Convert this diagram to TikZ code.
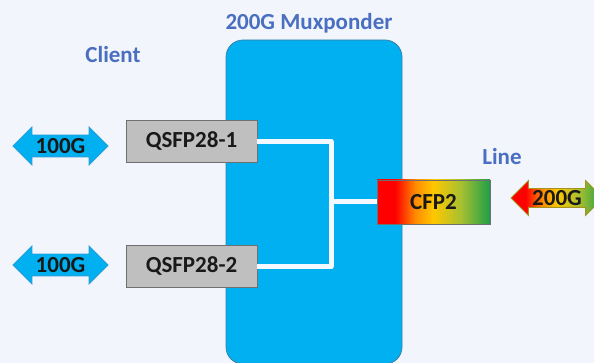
\documentclass[tikz,border=0pt]{standalone}
\usepackage{fontspec}
\setmainfont{Carlito}
\usetikzlibrary{shapes.arrows}

\definecolor{bgcol}{HTML}{F2F6FC}
\definecolor{muxblue}{HTML}{00B0F0}
\definecolor{muxedge}{HTML}{3F7FA6}
\definecolor{labelblue}{HTML}{4A6FC0}
\definecolor{boxgray}{HTML}{BFBFBF}
\definecolor{boxedge}{HTML}{6F6F6F}
\definecolor{arrowedge}{HTML}{2A9ED8}
\definecolor{cfpred}{HTML}{FF0000}
\definecolor{cfporange}{HTML}{FF8C00}
\definecolor{cfpyellow}{HTML}{FFC800}
\definecolor{cfplgreen}{HTML}{A8C030}
\definecolor{cfpgreen}{HTML}{1E9E48}
\definecolor{wireband}{HTML}{F4F9FF}

% red -> orange -> yellow -> green, path box spans 25bp..75bp
\pgfdeclarehorizontalshading{traffic}{100bp}{%
  color(0bp)=(cfpred); color(25bp)=(cfpred); color(33bp)=(cfpred);
  color(42bp)=(cfporange); color(50bp)=(cfpyellow);
  color(62bp)=(cfplgreen); color(75bp)=(cfpgreen); color(100bp)=(cfpgreen)}

\tikzset{
  txt/.style={font=\fontsize{23}{27}\selectfont\bfseries},
  heading/.style={txt, text=labelblue},
  module/.style={txt, draw=boxedge, line width=0.8pt, minimum width=131pt,
    minimum height=42pt, inner sep=0pt, text=black!90},
  qsfp/.style={module, fill=boxgray},
  cfp/.style={module, shading=traffic, minimum width=113pt, minimum height=44pt},
  clientarrow/.style={txt, double arrow, double arrow head extend=8pt,
    double arrow head indent=0pt, minimum height=95pt, inner xsep=2pt,
    inner ysep=3pt, text height=15pt, text depth=0pt,
    fill=muxblue, draw=arrowedge, line width=0.8pt, text=black!90},
  linearrow/.style={clientarrow, shading=traffic, draw=cfporange!60!cfpgreen,
    double arrow head extend=8pt, inner ysep=1.5pt, minimum height=92pt},
  wire/.style={draw=wireband, line width=5pt, line join=round}
}

\begin{document}
\begin{tikzpicture}[x=1pt, y=-1pt]
  \useasboundingbox (0,0) rectangle (594,363);
  \clip (0,0) rectangle (594,363);
  \fill[bgcol] (0,0) rectangle (594,363);

  % muxponder chassis
  \draw[fill=muxblue, draw=muxedge, line width=0.8pt, rounded corners=17pt]
    (226,40) rectangle (402,364);

  % headings
  \node[heading] (muxlabel) at (309,23) {200G Muxponder};
  \node[heading] (clientlabel) at (113,55) {Client};
  \node[heading] (linelabel) at (502,157) {Line};

  % optics
  \node[qsfp] (q1) at (191.5,141.5) {QSFP28-1};
  \node[qsfp] (q2) at (191.5,266.5) {QSFP28-2};
  \node[cfp]  (cfp) at (433.5,202) {CFP2};

  % internal wiring
  \coordinate (j) at (331,202);
  \draw[wire] (q1.east) -- (q1.east -| j) -- (q2.east -| j) -- (q2.east);
  \draw[wire] (j) -- (cfp.west);

  % client and line ports
  \node[clientarrow] (c1) at (60.5,146) {100G};
  \node[clientarrow] (c2) at (60.5,265) {100G};
  \node[linearrow] (l1) at (557,198) {200G};
\end{tikzpicture}
\end{document}
